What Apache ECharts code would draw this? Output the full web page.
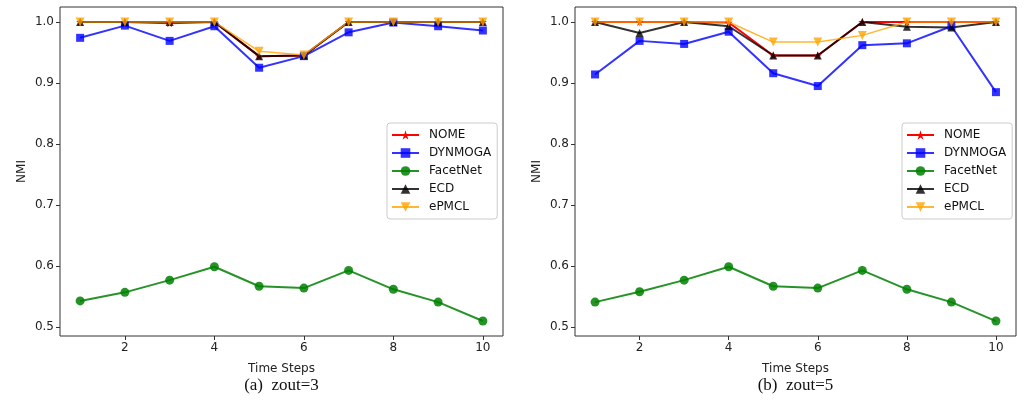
<!DOCTYPE html>
<html>
<head>
<meta charset="utf-8">
<script src="https://cdn.jsdelivr.net/npm/echarts@6/dist/echarts.min.js"></script>
<style>
  html, body { margin: 0; padding: 0; background: #fff; }
  #chart { width: 1031px; height: 402px; }
</style>
</head>
<body>
<div id="chart"></div>
<script>
// time steps (x axis)
const steps = [1, 2, 3, 4, 5, 6, 7, 8, 9, 10]
const xTicks = [2, 4, 6, 8, 10]
const yTicks = [0.5, 0.6, 0.7, 0.8, 0.9, 1.0]

// (a) zout=3
const nomeA = [1.0, 1.0, 0.998, 1.0, 0.944, 0.945, 1.0, 1.0, 1.0, 1.0]
const dynmogaA = [0.974, 0.994, 0.969, 0.993, 0.925, 0.944, 0.983, 0.999, 0.993, 0.986]
const facetnetA = [0.543, 0.557, 0.577, 0.599, 0.567, 0.564, 0.593, 0.562, 0.541, 0.510]
const ecdA = [1.0, 1.0, 1.0, 1.0, 0.944, 0.945, 1.0, 1.0, 1.0, 1.0]
const epmclA = [1.0, 1.0, 1.0, 1.0, 0.952, 0.946, 1.0, 1.0, 1.0, 1.0]

// (b) zout=5
const nomeB = [1.0, 1.0, 1.0, 0.999, 0.945, 0.945, 1.0, 1.0, 1.0, 1.0]
const dynmogaB = [0.914, 0.969, 0.964, 0.984, 0.916, 0.895, 0.962, 0.965, 0.993, 0.885]
const facetnetB = [0.541, 0.558, 0.577, 0.599, 0.567, 0.564, 0.593, 0.562, 0.541, 0.510]
const ecdB = [1.0, 0.982, 1.0, 0.993, 0.945, 0.945, 1.0, 0.992, 0.991, 1.0]
const epmclB = [1.0, 1.0, 1.0, 1.0, 0.967, 0.967, 0.978, 1.0, 1.0, 1.0]

const names = ['NOME', 'DYNMOGA', 'FacetNet', 'ECD', 'ePMCL']
const captions = ['(a)  zout=3', '(b)  zout=5']

const starPath = 'path://M50,0 L61,35 L98,35 L68,57 L79,91 L50,70 L21,91 L32,57 L2,35 L39,35 Z'

// 样式
const styles = {
  NOME: { color: '#ff0000', symbol: starPath, size: 8, width: 2, rotate: 0 },
  DYNMOGA: { color: 'rgba(0,0,255,0.8)', symbol: 'rect', size: 8, width: 2, rotate: 0 },
  FacetNet: { color: 'rgba(0,128,0,0.85)', symbol: 'circle', size: 9, width: 2, rotate: 0 },
  ECD: { color: 'rgba(0,0,0,0.8)', symbol: 'triangle', size: 8, width: 2, rotate: 0 },
  ePMCL: { color: 'rgba(255,165,0,0.8)', symbol: 'triangle', size: 9, width: 1.5, rotate: 180 },
}

const panels = [
  { left: 60, width: 443, data: [nomeA, dynmogaA, facetnetA, ecdA, epmclA], legendLeft: 387, legendTop: 123 },
  { left: 575, width: 441, data: [nomeB, dynmogaB, facetnetB, ecdB, epmclB], legendLeft: 902, legendTop: 123 },
]

const font = 'DejaVu Sans'

const makeSeries = (values, name, idx) => {
  const s = styles[name]
  return {
    name,
    type: 'line',
    xAxisIndex: idx,
    yAxisIndex: idx,
    data: steps.map((x, i) => [x, values[i]]),
    symbol: s.symbol,
    symbolSize: s.size,
    symbolRotate: s.rotate,
    showAllSymbol: true,
    itemStyle: { color: s.color },
    lineStyle: { color: s.color, width: s.width },
    emphasis: { disabled: true },
    animation: false,
  }
}

const option = {
  backgroundColor: '#fff',
  animation: false,
  textStyle: { fontFamily: font },
  grid: panels.map((p) => ({
    left: p.left,
    width: p.width,
    top: 7,
    height: 329,
    show: true,
    borderColor: '#333',
    borderWidth: 1,
    backgroundColor: '#fff',
  })),
  xAxis: panels.map((p, i) => ({
    type: 'value',
    gridIndex: i,
    min: 0.55,
    max: 10.45,
    name: 'Time Steps',
    nameLocation: 'middle',
    nameGap: 27,
    nameTextStyle: { fontSize: 12, color: '#222', fontFamily: font },
    axisLine: { show: false },
    splitLine: { show: false },
    axisTick: { show: true, length: 4, customValues: xTicks, lineStyle: { color: '#333' } },
    axisLabel: { customValues: xTicks, fontSize: 12, color: '#222', margin: 6, fontFamily: font },
  })),
  yAxis: panels.map((p, i) => ({
    type: 'value',
    gridIndex: i,
    min: 0.4855,
    max: 1.0245,
    name: 'NMI',
    nameLocation: 'middle',
    nameGap: 32,
    nameTextStyle: { fontSize: 12, color: '#222', fontFamily: font },
    axisLine: { show: false },
    splitLine: { show: false },
    axisTick: { show: true, length: 4, customValues: yTicks, lineStyle: { color: '#333' } },
    axisLabel: {
      customValues: yTicks,
      fontSize: 12,
      color: '#222',
      margin: 6,
      fontFamily: font,
      formatter: (v) => v.toFixed(1),
    },
  })),
  legend: panels.map((p) => ({
    data: names,
    orient: 'vertical',
    left: p.legendLeft,
    top: p.legendTop,
    padding: [6, 6, 6, 4],
    itemGap: 6,
    itemWidth: 27,
    itemHeight: 12,
    borderColor: '#ccc',
    borderWidth: 1,
    borderRadius: 3,
    backgroundColor: '#fff',
    selectedMode: false,
    textStyle: { fontSize: 12, color: '#111', fontFamily: font, padding: [0, 0, 0, 5] },
  })),
  series: panels.flatMap((p, i) => names.map((n, k) => makeSeries(p.data[k], n, i))),
  graphic: panels.map((p, i) => ({
    type: 'text',
    x: p.left + p.width / 2,
    y: 386,
    style: {
      text: captions[i],
      font: '17px "Liberation Serif"',
      fill: '#111',
      align: 'center',
      verticalAlign: 'middle',
    },
  })),
}

const chart = echarts.init(document.getElementById('chart'))
chart.setOption(option)
</script>
</body>
</html>
